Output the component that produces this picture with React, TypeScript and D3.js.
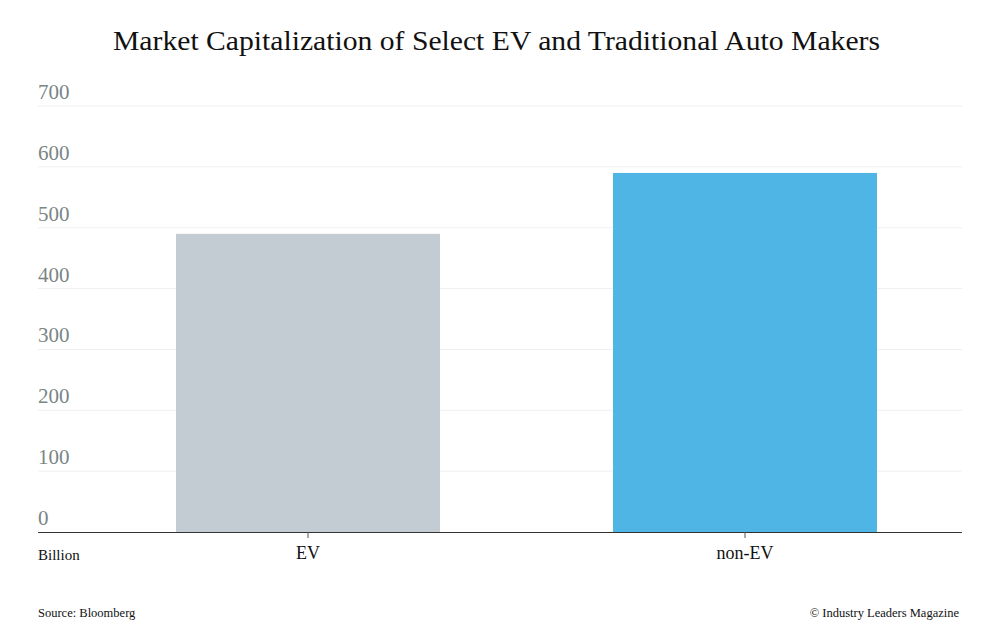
import React, { useRef, useEffect } from 'react';
import * as d3 from 'd3';

const categories = ['EV', 'non-EV'];
const marketCap = [490, 590];
const barColors = ['#c4ccd3', '#4fb5e4'];
const yTicks = [0, 100, 200, 300, 400, 500, 600, 700];

const W = 1000;
const H = 630;
const FONT = '"Liberation Serif", "Times New Roman", serif';

const App: React.FC = () => {
  const svgRef = useRef<SVGSVGElement>(null);

  useEffect(() => {
    if (!svgRef.current) return;
    const svg = d3.select(svgRef.current);
    svg.selectAll('*').remove();

    const left = 38;
    const right = 962;
    const y = d3.scaleLinear().domain([0, 700]).range([532, 106]);
    const x = d3.scaleBand<string>().domain(categories).range([89.5, 963.5]);

    svg.append('rect').attr('width', W).attr('height', H).attr('fill', '#fff');

    // title
    svg.append('text')
      .attr('x', 496.5)
      .attr('y', 50)
      .attr('text-anchor', 'middle')
      .attr('font-family', FONT)
      .attr('font-size', 28)
      .attr('textLength', 767)
      .attr('lengthAdjust', 'spacingAndGlyphs')
      .attr('fill', '#111')
      .text('Market Capitalization of Select EV and Traditional Auto Makers');

    // gridlines + tick labels
    const grid = svg.append('g');
    yTicks.forEach((t) => {
      if (t > 0) {
        grid.append('line')
          .attr('x1', left)
          .attr('x2', right)
          .attr('y1', y(t))
          .attr('y2', y(t))
          .attr('stroke', '#efefef')
          .attr('stroke-width', 1);
      }
      grid.append('text')
        .attr('x', left)
        .attr('y', y(t) - 7)
        .attr('font-family', FONT)
        .attr('font-size', 21)
        .attr('fill', '#7a8585')
        .text(t);
    });

    // bars
    const barW = x.bandwidth() * 0.604;
    svg.append('g')
      .selectAll('rect')
      .data(categories)
      .join('rect')
      .attr('x', (d) => (x(d) as number) + (x.bandwidth() - barW) / 2)
      .attr('y', (_, i) => y(marketCap[i]))
      .attr('width', barW)
      .attr('height', (_, i) => y(0) - y(marketCap[i]))
      .attr('fill', (_, i) => barColors[i]);

    // x axis
    svg.append('line')
      .attr('x1', left)
      .attr('x2', right)
      .attr('y1', y(0) + 0.5)
      .attr('y2', y(0) + 0.5)
      .attr('stroke', '#333')
      .attr('stroke-width', 1);

    categories.forEach((c) => {
      const cx = (x(c) as number) + x.bandwidth() / 2;
      svg.append('line')
        .attr('x1', cx)
        .attr('x2', cx)
        .attr('y1', y(0))
        .attr('y2', y(0) + 6)
        .attr('stroke', '#555');
      svg.append('text')
        .attr('x', cx)
        .attr('y', 559)
        .attr('text-anchor', 'middle')
        .attr('font-family', FONT)
        .attr('font-size', 18)
        .attr('fill', '#111')
        .text(c);
    });

    svg.append('text')
      .attr('x', left)
      .attr('y', 560)
      .attr('font-family', FONT)
      .attr('font-size', 15)
      .attr('fill', '#111')
      .text('Billion');

    // footer
    svg.append('text')
      .attr('x', left)
      .attr('y', 617)
      .attr('font-family', FONT)
      .attr('font-size', 12.5)
      .attr('fill', '#111')
      .text('Source: Bloomberg');

    svg.append('text')
      .attr('x', 959)
      .attr('y', 617)
      .attr('text-anchor', 'end')
      .attr('font-family', FONT)
      .attr('font-size', 12.5)
      .attr('fill', '#111')
      .text('© Industry Leaders Magazine');
  }, []);

  return (
    <div style={{ position: 'absolute', top: 0, left: 0, width: W, height: H }}>
      <svg ref={svgRef} width={W} height={H} style={{ display: 'block' }} />
    </div>
  );
};

export default App;
